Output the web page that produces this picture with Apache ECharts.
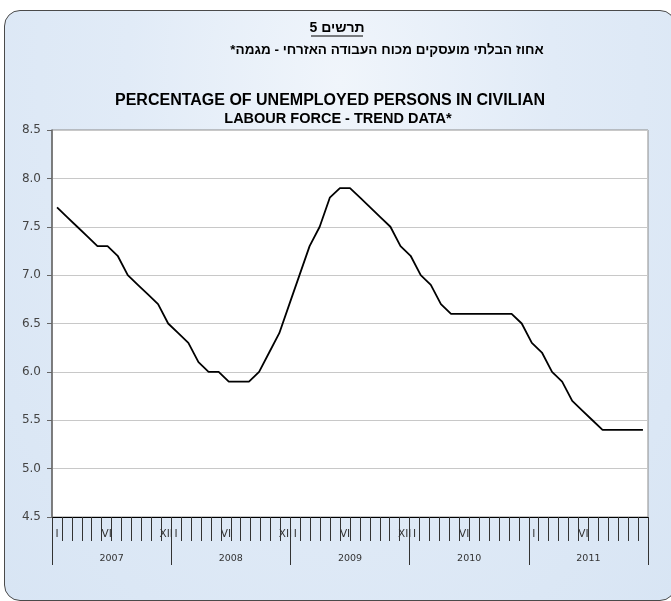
<!DOCTYPE html>
<html>
<head>
<meta charset="utf-8">
<script src="https://cdn.jsdelivr.net/npm/echarts@6/dist/echarts.min.js"></script>
<style>
  html, body { margin: 0; padding: 0; background: #fff; }
  #frame {
    position: absolute; left: 4px; top: 10px; width: 672px; height: 591px;
    box-sizing: border-box; border: 1.5px solid #4a4a4a; border-radius: 16px;
    background: radial-gradient(ellipse at 50% 12%, #f0f5fb 0%, #e1ebf7 45%, #d8e5f4 100%);
  }
  #chart { position: absolute; left: 0; top: 0; width: 671px; height: 601px; }
</style>
</head>
<body>
<div id="frame"></div>
<div id="chart"></div>
<script>
  // month tick labels, Jan 2007 .. Dec 2011
  var monthLabels = [
    'I', '', '', '', '', 'VI', '', '', '', '', '', 'XII',
    'I', '', '', '', '', 'VI', '', '', '', '', '', 'XII',
    'I', '', '', '', '', 'VI', '', '', '', '', '', 'XII',
    'I', '', '', '', '', 'VI', '', '', '', '', '', '',
    'I', '', '', '', '', 'VI', '', '', '', '', '', ''
  ];
  var years = ['2007', '2008', '2009', '2010', '2011'];

  // trend series, percent (59 monthly points spread over the axis)
  var unemployment = [
    7.7, 7.6, 7.5, 7.4, 7.3, 7.3, 7.2, 7.0, 6.9, 6.8, 6.7, 6.5,
    6.4, 6.3, 6.1, 6.0, 6.0, 5.9, 5.9, 5.9, 6.0, 6.2, 6.4, 6.7,
    7.0, 7.3, 7.5, 7.8, 7.9, 7.9, 7.8, 7.7, 7.6, 7.5, 7.3, 7.2,
    7.0, 6.9, 6.7, 6.6, 6.6, 6.6, 6.6, 6.6, 6.6, 6.6, 6.5, 6.3,
    6.2, 6.0, 5.9, 5.7, 5.6, 5.5, 5.4, 5.4, 5.4, 5.4, 5.4
  ];

  var yMin = 4.5;
  var yMax = 8.5;
  var yStep = 0.5;

  var titleHe = 'תרשים 5';
  var subtitleHe = 'אחוז הבלתי מועסקים מכוח העבודה האזרחי - מגמה*';
  var titleEn1 = 'PERCENTAGE OF UNEMPLOYED PERSONS IN CIVILIAN';
  var titleEn2 = 'LABOUR FORCE - TREND DATA*';

  var monthKeys = [];
  years.forEach(function (y) {
    for (var m = 1; m <= 12; m++) monthKeys.push(y + '-' + m);
  });
  var pointKeys = unemployment.map(function (v, i) { return 'p' + i; });

  // right-to-left marks so the asterisk lands on the left like in the original
  function rtl(s) { return '\u200F' + s + '\u200F'; }

  var chart = echarts.init(document.getElementById('chart'));
  var font = 'DejaVu Sans';
  var titleFont = '"Liberation Sans", Arial, sans-serif';

  chart.setOption({
    animation: false,
    backgroundColor: 'transparent',
    grid: {
      left: 52,
      right: 23,
      top: 130,
      bottom: 84,
      show: true,
      backgroundColor: '#ffffff',
      borderColor: '#8c8c8c',
      borderWidth: 1
    },
    graphic: [
      {
        type: 'text', x: 337, y: 28,
        style: {
          text: rtl(titleHe), textAlign: 'center', textVerticalAlign: 'middle',
          font: 'bold 14px ' + titleFont, fill: '#000'
        }
      },
      {
        type: 'line', shape: { x1: 311, y1: 36, x2: 363, y2: 36 },
        style: { stroke: '#000', lineWidth: 1 }
      },
      {
        type: 'text', x: 387, y: 50,
        style: {
          text: rtl(subtitleHe), textAlign: 'center', textVerticalAlign: 'middle',
          font: 'bold 13.5px ' + titleFont, fill: '#000'
        }
      },
      {
        type: 'text', x: 330, y: 101,
        style: {
          text: titleEn1, textAlign: 'center', textVerticalAlign: 'middle',
          font: 'bold 16px ' + titleFont, fill: '#000'
        }
      },
      {
        type: 'text', x: 338, y: 119,
        style: {
          text: titleEn2, textAlign: 'center', textVerticalAlign: 'middle',
          font: 'bold 14.5px ' + titleFont, fill: '#000'
        }
      }
    ],
    xAxis: [
      {
        type: 'category',
        position: 'bottom',
        data: monthKeys,
        boundaryGap: true,
        axisLine: { show: true, lineStyle: { color: '#000', width: 1 } },
        axisTick: { show: true, interval: 0, length: 24, lineStyle: { color: '#333' } },
        axisLabel: {
          show: true,
          interval: 0,
          margin: 12,
          fontFamily: font,
          fontSize: 10.5,
          color: '#333',
          formatter: function (v, i) { return monthLabels[i]; }
        },
        splitLine: { show: false }
      },
      {
        type: 'category',
        show: false,
        position: 'bottom',
        data: pointKeys,
        boundaryGap: true
      },
      {
        type: 'category',
        position: 'bottom',
        data: years,
        boundaryGap: true,
        axisLine: { show: false },
        axisTick: { show: true, interval: 0, length: 48, lineStyle: { color: '#333' } },
        axisLabel: {
          show: true,
          interval: 0,
          margin: 37,
          fontFamily: font,
          fontSize: 9.5,
          color: '#333'
        },
        splitLine: { show: false }
      }
    ],
    yAxis: {
      type: 'value',
      min: yMin,
      max: yMax,
      interval: yStep,
      axisLine: { show: true, lineStyle: { color: '#666', width: 1.5 } },
      axisTick: { show: true, length: 5, lineStyle: { color: '#666' } },
      axisLabel: {
        margin: 11,
        fontFamily: font,
        fontSize: 12,
        color: '#444',
        formatter: function (v) { return v.toFixed(1); }
      },
      splitLine: { lineStyle: { color: '#c8c8c8', width: 1 } }
    },
    series: [
      {
        name: 'Unemployed %',
        type: 'line',
        xAxisIndex: 1,
        data: unemployment,
        showSymbol: false,
        smooth: false,
        lineStyle: { color: '#000', width: 1.8 }
      }
    ]
  });
</script>
</body>
</html>
